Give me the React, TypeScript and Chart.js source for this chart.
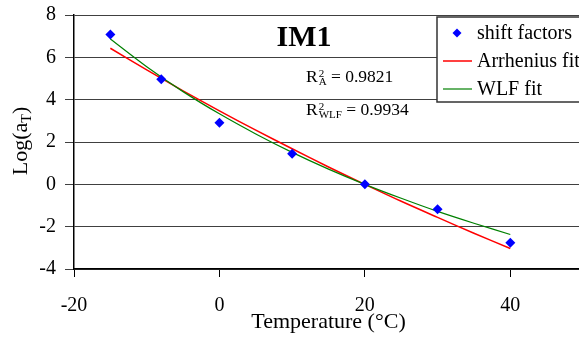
import { useEffect, useRef } from "react";
import { Chart, registerables } from "chart.js";

Chart.register(...registerables);

// Measured shift factors
const temps = [-15, -8, 0, 10, 20, 30, 40];
const shiftFactors = [7.08, 4.96, 2.91, 1.44, 0, -1.18, -2.76];

// Fitted curves
const fitTemps = [-15, -10, -5, 0, 5, 10, 15, 20, 25, 30, 35, 40];
const arrheniusFit = [6.43, 5.41, 4.42, 3.47, 2.56, 1.68, 0.82, 0, -0.8, -1.56, -2.31, -3.03];
const wlfFit = [6.87, 5.56, 4.38, 3.33, 2.38, 1.51, 0.72, 0, -0.66, -1.28, -1.84, -2.37];

// Axes
const xTicks = [-20, 0, 20, 40];
const yTicks = [-4, -2, 0, 2, 4, 6, 8];
const xMin = -20;
const xMax = 50;
const yMin = -4;
const yMax = 8;

const chartTitle = "IM1";
const xTitle = "Temperature (°C)";
const yTitleMain = "Log(a";
const yTitleSub = "T";
const yTitleEnd = ")";
const r2Labels = [
  { sub: "A", value: "0.9821" },
  { sub: "WLF", value: "0.9934" },
];
const seriesNames = ["shift factors", "Arrhenius fit", "WLF fit"];

const SERIF = '"Liberation Serif", "Times New Roman", serif';

const annotations = {
  id: "annotations",
  afterDraw(chart: any) {
    const ctx: CanvasRenderingContext2D = chart.ctx;
    ctx.save();
    ctx.fillStyle = "#000";
    ctx.textBaseline = "alphabetic";

    // chart title
    ctx.font = `bold 30px ${SERIF}`;
    ctx.textAlign = "center";
    ctx.fillText(chartTitle, 304, 46);

    // R² annotations
    ctx.textAlign = "left";
    r2Labels.forEach((r, i) => {
      const x0 = 306;
      const base = 82 + i * 33;
      ctx.font = `17.5px ${SERIF}`;
      ctx.fillText("R", x0, base);
      const rw = ctx.measureText("R").width + 1;
      ctx.font = `11px ${SERIF}`;
      ctx.fillText("2", x0 + rw, base - 5);
      ctx.fillText(r.sub, x0 + rw, base + 3);
      const sw = Math.max(ctx.measureText("2").width, ctx.measureText(r.sub).width);
      ctx.font = `17.5px ${SERIF}`;
      ctx.fillText(" = " + r.value, x0 + rw + sw, base);
    });

    // y axis title with subscript
    ctx.save();
    ctx.translate(27, 141);
    ctx.rotate(-Math.PI / 2);
    ctx.font = `22px ${SERIF}`;
    const w1 = ctx.measureText(yTitleMain).width;
    const w3 = ctx.measureText(yTitleEnd).width;
    ctx.font = `14px ${SERIF}`;
    const w2 = ctx.measureText(yTitleSub).width;
    let x = -(w1 + w2 + w3) / 2;
    ctx.font = `22px ${SERIF}`;
    ctx.fillText(yTitleMain, x, 0);
    x += w1;
    ctx.font = `14px ${SERIF}`;
    ctx.fillText(yTitleSub, x, 4);
    x += w2;
    ctx.font = `22px ${SERIF}`;
    ctx.fillText(yTitleEnd, x, 0);
    ctx.restore();

    // legend box
    const lx = 437;
    const ly = 17;
    ctx.fillStyle = "#fff";
    ctx.fillRect(lx, ly, 170, 85);
    ctx.strokeStyle = "#333";
    ctx.lineWidth = 1.5;
    ctx.strokeRect(lx, ly, 170, 85);

    const ds = chart.data.datasets;
    const rows = [33, 61, 89];
    ctx.font = `20px ${SERIF}`;
    ctx.textBaseline = "middle";
    ds.forEach((d: any, i: number) => {
      const y = rows[i];
      if (i === 0) {
        const r = 4.5;
        ctx.fillStyle = d.backgroundColor;
        ctx.beginPath();
        ctx.moveTo(457, y - r);
        ctx.lineTo(457 + r, y);
        ctx.lineTo(457, y + r);
        ctx.lineTo(457 - r, y);
        ctx.closePath();
        ctx.fill();
      } else {
        ctx.strokeStyle = d.borderColor;
        ctx.lineWidth = d.borderWidth;
        ctx.beginPath();
        ctx.moveTo(443, y);
        ctx.lineTo(472, y);
        ctx.stroke();
      }
      ctx.fillStyle = "#000";
      ctx.fillText(d.label, 477, y + 1);
    });

    ctx.restore();
  },
};

const noEdgePadding = (s: any) => {
  s.paddingTop = 0;
  s.paddingBottom = 0;
  s.paddingLeft = 0;
  s.paddingRight = 0;
};

export default function App() {
  const canvasRef = useRef<HTMLCanvasElement | null>(null);

  useEffect(() => {
    const canvas = canvasRef.current;
    if (!canvas) return;
    const chart = new Chart(canvas, {
      type: "scatter",
      data: {
        datasets: [
          {
            label: seriesNames[0],
            data: temps.map((t, i) => ({ x: t, y: shiftFactors[i] })),
            backgroundColor: "#0000ff",
            borderColor: "#0000ff",
            pointStyle: "rectRot",
            pointRadius: 5,
            borderWidth: 0,
            showLine: false,
            order: 0,
          },
          {
            label: seriesNames[1],
            data: fitTemps.map((t, i) => ({ x: t, y: arrheniusFit[i] })),
            borderColor: "#ff0000",
            backgroundColor: "#ff0000",
            borderWidth: 1.5,
            pointRadius: 0,
            showLine: true,
            tension: 0.3,
            order: 2,
          },
          {
            label: seriesNames[2],
            data: fitTemps.map((t, i) => ({ x: t, y: wlfFit[i] })),
            borderColor: "#008000",
            backgroundColor: "#008000",
            borderWidth: 1.2,
            pointRadius: 0,
            showLine: true,
            tension: 0.3,
            order: 1,
          },
        ],
      },
      options: {
        responsive: false,
        animation: false,
        devicePixelRatio: 1,
        layout: { padding: { top: 15, right: 7, left: 0, bottom: 0 } },
        plugins: {
          legend: { display: false },
          tooltip: { enabled: false },
        },
        scales: {
          x: {
            type: "linear",
            min: xMin,
            max: xMax,
            afterBuildTicks: (s: any) => {
              s.ticks = xTicks.map((v) => ({ value: v }));
            },
            afterFit: (s: any) => {
              s.height = 70;
              noEdgePadding(s);
            },
            grid: {
              drawOnChartArea: false,
              drawTicks: true,
              tickLength: 8,
              color: "#000",
            },
            border: { color: "#000", width: 1.5 },
            ticks: {
              color: "#000",
              font: { family: SERIF, size: 20 },
              padding: 17,
              maxRotation: 0,
            },
            title: {
              display: true,
              text: xTitle,
              color: "#000",
              font: { family: SERIF, size: 22 },
              padding: { top: 0, bottom: 4 },
            },
          },
          y: {
            type: "linear",
            min: yMin,
            max: yMax,
            afterBuildTicks: (s: any) => {
              s.ticks = yTicks.map((v) => ({ value: v }));
            },
            afterFit: (s: any) => {
              s.width = 74;
              noEdgePadding(s);
            },
            grid: {
              color: "#404040",
              tickLength: 9,
            },
            border: { color: "#000", width: 1.5 },
            ticks: {
              color: "#000",
              font: { family: SERIF, size: 20 },
              padding: 9,
            },
          },
        },
      },
      plugins: [annotations],
    });
    return () => chart.destroy();
  }, []);

  return (
    <div
      style={{
        position: "fixed",
        left: 0,
        top: 0,
        width: 579,
        height: 339,
        overflow: "hidden",
        background: "#fff",
      }}
    >
      <canvas ref={canvasRef} width={590} height={339} style={{ display: "block" }} />
    </div>
  );
}
